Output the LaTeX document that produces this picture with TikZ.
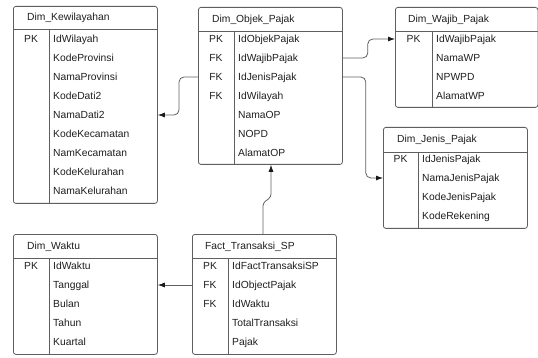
\documentclass[tikz,border=0pt]{standalone}
\usepackage{fontspec}
\setmainfont{Liberation Sans}
\usetikzlibrary{arrows.meta}
\definecolor{linegray}{RGB}{95,95,95}
\definecolor{textgray}{RGB}{30,30,30}
\begin{document}
\begin{tikzpicture}[x=1pt,y=-1pt,font=\fontsize{10.3}{12}\selectfont,text=textgray]
	\tikzset{table/.style = {draw=linegray,line width=.8pt,rounded corners=2.5pt,anchor=north west,inner sep=0pt}}
	\tikzset{title/.style = {anchor=west,inner sep=0pt,text height=7.4pt,text depth=0pt}}
	\tikzset{field/.style = {anchor=west,inner sep=0pt,text height=7.4pt,text depth=0pt}}
	\tikzset{key/.style = {inner sep=0pt,text height=7.4pt,text depth=0pt}}
	\tikzset{rule/.style = {draw=linegray,line width=.8pt}}
	\tikzset{link/.style = {draw=linegray,line width=.8pt,rounded corners=5pt,-{Latex[length=7pt,width=5pt,color=black!90]}}}
	\useasboundingbox (0,0) rectangle (538,358);

	% Dim_Kewilayahan
	\node[table,minimum width=144pt,minimum height=197pt] (kew) at (13,6) {};
	\node[title] (kew-title) at (27,17) {Dim\_Kewilayahan};
	\draw[rule] (13,29) -- (157,29);
	\draw[rule] (49,29) -- (49,203);
	\node[key] at (31,39) {PK};
	\foreach \f [count=\i] in {IdWilayah,KodeProvinsi,NamaProvinsi,KodeDati2,NamaDati2,KodeKecamatan,NamKecamatan,KodeKelurahan,NamaKelurahan}
		\node[field] (kew-\i) at (53,20+19*\i) {\f};

	% Dim_Objek_Pajak
	\node[table,minimum width=144pt,minimum height=157pt] (objek) at (198,7) {};
	\node[title] (objek-title) at (212,19) {Dim\_Objek\_Pajak};
	\draw[rule] (198,31) -- (342,31);
	\draw[rule] (234,31) -- (234,164);
	\foreach \k [count=\i] in {PK,FK,FK,FK}
		\node[key] at (216,20+19*\i) {\k};
	\foreach \f [count=\i] in {IdObjekPajak,IdWajibPajak,IdJenisPajak,IdWilayah,NamaOP,NOPD,AlamatOP}
		\node[field] (objek-\i) at (238,20+19*\i) {\f};

	% Dim_Wajib_Pajak
	\node[table,minimum width=142.5pt,minimum height=100pt] (wajib) at (395,7) {};
	\node[title] (wajib-title) at (408,19) {Dim\_Wajib\_Pajak};
	\draw[rule] (395,31) -- (537.5,31);
	\draw[rule] (432,31) -- (432,107);
	\node[key] at (413.5,39) {PK};
	\foreach \f [count=\i] in {IdWajibPajak,NamaWP,NPWPD,AlamatWP}
		\node[field] (wajib-\i) at (436,20+19*\i) {\f};

	% Dim_Jenis_Pajak
	\node[table,minimum width=144pt,minimum height=101pt] (jenis) at (383,127) {};
	\node[title] (jenis-title) at (397,139) {Dim\_Jenis\_Pajak};
	\draw[rule] (383,152) -- (527,152);
	\draw[rule] (418,152) -- (418,228);
	\node[key] at (400.5,159) {PK};
	\foreach \f [count=\i] in {IdJenisPajak,NamaJenisPajak,KodeJenisPajak,KodeRekening}
		\node[field] (jenis-\i) at (422,140+19*\i) {\f};

	% Dim_Waktu
	\node[table,minimum width=144pt,minimum height=120pt] (waktu) at (13,234) {};
	\node[title] (waktu-title) at (27,246) {Dim\_Waktu};
	\draw[rule] (13,258) -- (157,258);
	\draw[rule] (49,258) -- (49,354);
	\node[key] at (31,266) {PK};
	\foreach \f [count=\i] in {IdWaktu,Tanggal,Bulan,Tahun,Kuartal}
		\node[field] (waktu-\i) at (53,247+19*\i) {\f};

	% Fact_Transaksi_SP
	\node[table,minimum width=144pt,minimum height=120pt] (fact) at (192,234) {};
	\node[title] (fact-title) at (205,246) {Fact\_Transaksi\_SP};
	\draw[rule] (192,258) -- (336,258);
	\draw[rule] (228,258) -- (228,354);
	\foreach \k [count=\i] in {PK,FK,FK}
		\node[key] at (210,247+19*\i) {\k};
	\foreach \f [count=\i] in {IdFactTransaksiSP,IdObjectPajak,IdWaktu,TotalTransaksi,Pajak}
		\node[field] (fact-\i) at (232,247+19*\i) {\f};

	% relations
	\draw[link] (objek-2 -| objek.east) -- ++(25,0) |- (wajib-1 -| wajib.west);
	\draw[link] (objek-3 -| objek.east) -- ++(23,0) |- (jenis-2 -| jenis.west);
	\draw[link] (objek-3 -| objek.west) -- ++(-19,0) |- (kew-5 -| kew.east);
	\coordinate (jog-a) at (263,203);
	\coordinate (jog-b) at (271,197);
	\draw[link,rounded corners=3pt] (fact.north -| jog-a) -- (jog-a) -- (jog-b) -- (objek.south -| jog-b);
	\draw[link] (fact-2 -| fact.west) -- (waktu-2 -| waktu.east);
\end{tikzpicture}
\end{document}
